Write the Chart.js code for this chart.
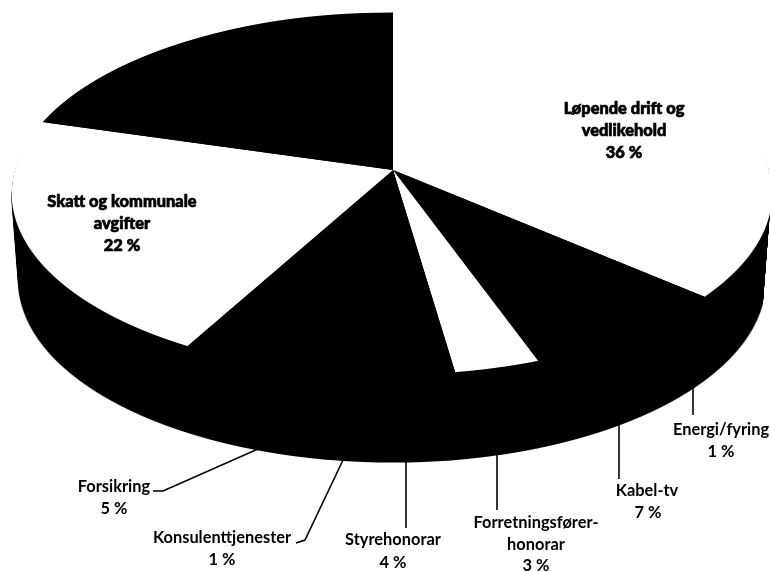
<!DOCTYPE html>
<html><head><meta charset="utf-8">
<style>html,body{margin:0;padding:0;background:#fff}canvas{display:block}</style>
<script src="https://cdn.jsdelivr.net/npm/chart.js@4"></script>
</head><body>
<canvas id="c" width="770" height="572"></canvas>
<script>
const categories = ['Løpende drift og vedlikehold','Energi/fyring','Kabel-tv','Forretningsfører-honorar','Styrehonorar','Konsulenttjenester','Forsikring','Skatt og kommunale avgifter',''];
const shares = [36.3,1.0,7.2,3.2,4.4,1.2,4.7,21.5,20.5];
const faceColors = ['#ffffff','#000000','#000000','#ffffff','#000000','#000000','#000000','#ffffff','#000000'];

const view = {cx:393, cy:170, AL:378, AR:376, B:178, p:0.13, depth:88, shrink:0.018};

function drawFace(ctx, arcs, black){
  const {cx,cy,AL,AR,B,p} = view;
  const top = Math.floor(cy - B/(1+p)), bot = Math.ceil(cy + B/(1-p));
  const sides = [[0,cx,AL],[cx,770-cx,AR]];
  for(let y=top; y<bot; y++){
    const t = y+0.5-cy;
    const v = t/(B+p*t);
    if(Math.abs(v)>1) continue;
    const den = 1-p*v;
    sides.forEach(side=>{
      arcs.forEach(arc=>{
        const r = arc.outerRadius, ex = arc.x, ey = arc.y;
        const sx = side[2]/den/r, sy = B/(den*den)/r;
        ctx.save();
        ctx.beginPath(); ctx.rect(side[0],y,side[1],1); ctx.clip();
        ctx.transform(sx,0,0,sy, cx-ex*sx, (y+0.5)-(ey+v*r)*sy);
        if(black){
          const o = arc.options;
          arc.options = new Proxy(o,{get:(t,k)=>k==='backgroundColor'?'#000000':t[k]});
          arc.draw(ctx);
          arc.options = o;
        } else arc.draw(ctx);
        ctx.restore();
      });
    });
  }
}

const pie3d = {
  id:'pie3d',
  beforeDatasetDraw(chart,args){
    const arcs = args.meta.data, ctx = chart.ctx;
    const mk = ()=>{const c=document.createElement('canvas');c.width=770;c.height=572;return c;};
    const sil = mk(), face = mk();
    drawFace(sil.getContext('2d'),arcs,true);
    drawFace(face.getContext('2d'),arcs,false);
    for(let d=view.depth;d>=1;d--){
      const s = 1-view.shrink*d/view.depth;
      ctx.drawImage(sil, view.cx*(1-s), d, 770*s, 572);
    }
    ctx.drawImage(face,0,0);
    return false;
  }
};

const leaders = [
 [[693,386],[693,415]],
 [[619,423],[619,479]],
 [[497,454],[497,510]],
 [[406,462],[406,528]],
 [[343,460],[305,540],[296,543]],
 [[258,449],[163,491],[153,491]]
];
const outerText = [
 ['Energi/fyring',721,430],['1 %',721,452],
 ['Kabel-tv',647,491],['7 %',648,513],
 ['Forretningsfører-',536,523],['honorar',536,545],['3 %',536,566],
 ['Styrehonorar',393,540],['4 %',393,563],
 ['Konsulenttjenester',222,538],['1 %',222,560],
 ['Forsikring',114,487],['5 %',114,509]
];
const innerText = [
 ['Løpende drift og',624,109],['vedlikehold',624,131],['36 %',624,153],
 ['Skatt og kommunale',122,202],['avgifter',122,224],['22 %',122,246]
];
const labelsPlugin = {
  id:'labels3d',
  afterDraw(chart){
    const ctx = chart.ctx;
    ctx.save();
    ctx.strokeStyle='#000'; ctx.lineWidth=1.6;
    leaders.forEach(l=>{ctx.beginPath();l.forEach((q,i)=>i?ctx.lineTo(q[0],q[1]):ctx.moveTo(q[0],q[1]));ctx.stroke();});
    ctx.fillStyle='#000'; ctx.textAlign='center'; ctx.textBaseline='middle';
    ctx.font='bold 16.4px Lato, sans-serif';
    outerText.forEach(t=>ctx.fillText(t[0],t[1],t[2]));
    ctx.font='900 16.4px Lato, sans-serif';
    ctx.lineWidth=0.7;
    innerText.forEach(t=>{ctx.fillText(t[0],t[1],t[2]);ctx.strokeText(t[0],t[1],t[2]);});
    ctx.restore();
  }
};

new Chart(document.getElementById('c'),{
  type:'pie',
  data:{labels:categories,datasets:[{data:shares,backgroundColor:faceColors,borderWidth:0}]},
  options:{
    responsive:false,animation:false,
    events:[],
    layout:{padding:0},
    plugins:{legend:{display:false},tooltip:{enabled:false}}
  },
  plugins:[pie3d,labelsPlugin]
});
</script>
</body></html>
